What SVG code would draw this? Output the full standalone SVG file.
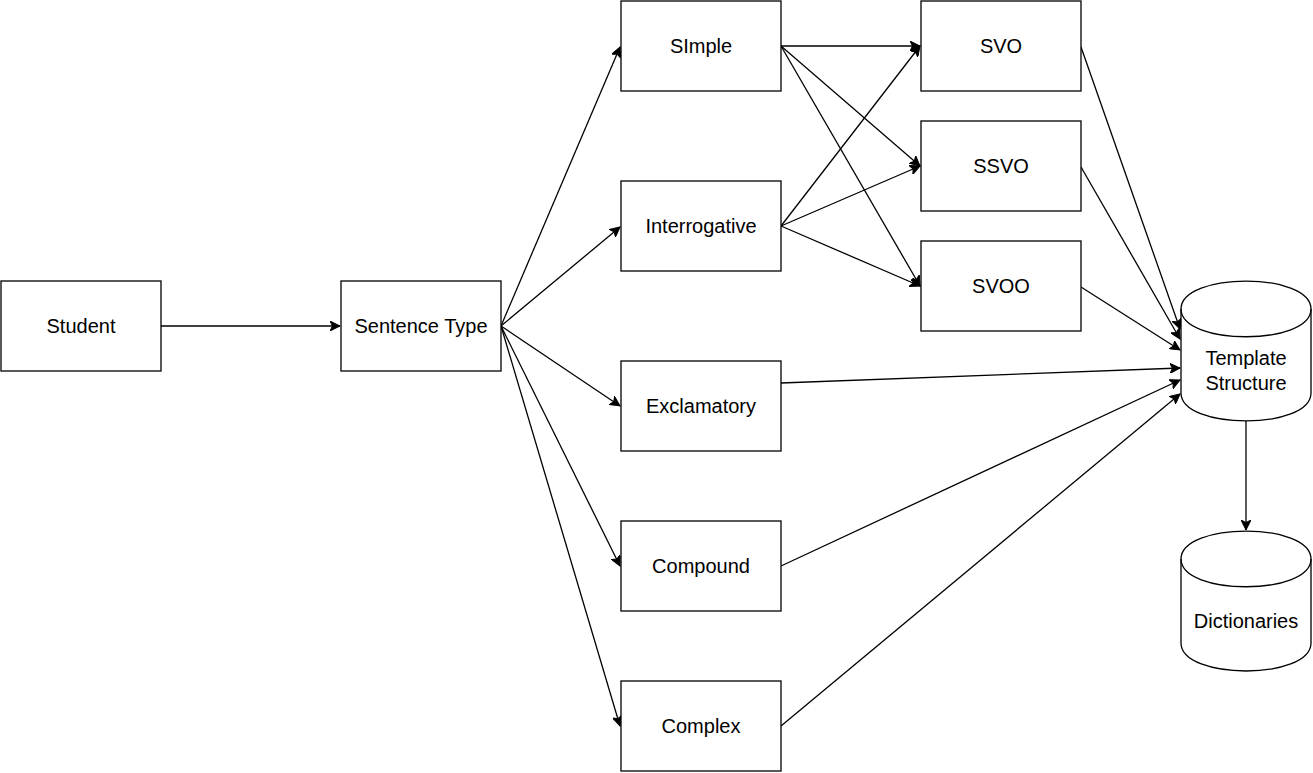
<svg xmlns="http://www.w3.org/2000/svg" width="1313" height="773" viewBox="0 0 1313 773">
<style>
.box{fill:#fff;stroke:#000;stroke-width:1.3}
.lbl{font-family:"Liberation Sans",Arial,sans-serif;font-size:20px;fill:#000;text-anchor:middle}
.edge{fill:none;stroke:#000;stroke-width:1.3;marker-end:url(#arr)}
</style>
<defs>
<marker id="arr" markerWidth="12" markerHeight="10" refX="10" refY="5" orient="auto" markerUnits="userSpaceOnUse">
<path d="M0,0 L10,5 L0,10 L2.5,5 Z" fill="#000" stroke="#000" stroke-width="1"/>
</marker>
</defs>
<rect width="1313" height="773" fill="#fff"/>
<g id="connectors">
<line class="edge" x1="161" y1="326" x2="340" y2="326"/>
<line class="edge" x1="501" y1="326" x2="620" y2="47"/>
<line class="edge" x1="501" y1="326" x2="620" y2="227"/>
<line class="edge" x1="501" y1="326" x2="620" y2="406"/>
<line class="edge" x1="501" y1="326" x2="620" y2="566"/>
<line class="edge" x1="501" y1="326" x2="620" y2="726"/>
<line class="edge" x1="781" y1="46" x2="920" y2="46"/>
<line class="edge" x1="781" y1="46" x2="920" y2="166"/>
<line class="edge" x1="781" y1="46" x2="920" y2="286"/>
<line class="edge" x1="781" y1="226" x2="920" y2="46"/>
<line class="edge" x1="781" y1="226" x2="920" y2="166"/>
<line class="edge" x1="781" y1="226" x2="920" y2="286"/>
<line class="edge" x1="1081" y1="47" x2="1180" y2="329"/>
<line class="edge" x1="1081" y1="167" x2="1180" y2="339"/>
<line class="edge" x1="1081" y1="287" x2="1180" y2="350"/>
<line class="edge" x1="781" y1="383" x2="1180" y2="368"/>
<line class="edge" x1="781" y1="566" x2="1180" y2="380"/>
<line class="edge" x1="781" y1="726" x2="1180" y2="394"/>
<line class="edge" x1="1246" y1="421" x2="1246" y2="530"/>
</g>
<g id="student"><rect class="box" x="1" y="281" width="160" height="90"/><text class="lbl" x="81" y="333">Student</text></g>
<g id="sentence-type"><rect class="box" x="341" y="281" width="160" height="90"/><text class="lbl" x="421" y="333">Sentence Type</text></g>
<g id="simple"><rect class="box" x="621" y="1" width="160" height="90"/><text class="lbl" x="701" y="53">SImple</text></g>
<g id="interrogative"><rect class="box" x="621" y="181" width="160" height="90"/><text class="lbl" x="701" y="233">Interrogative</text></g>
<g id="exclamatory"><rect class="box" x="621" y="361" width="160" height="90"/><text class="lbl" x="701" y="413">Exclamatory</text></g>
<g id="compound"><rect class="box" x="621" y="521" width="160" height="90"/><text class="lbl" x="701" y="573">Compound</text></g>
<g id="complex"><rect class="box" x="621" y="681" width="160" height="90"/><text class="lbl" x="701" y="733">Complex</text></g>
<g id="svo"><rect class="box" x="921" y="1" width="160" height="90"/><text class="lbl" x="1001" y="53">SVO</text></g>
<g id="ssvo"><rect class="box" x="921" y="121" width="160" height="90"/><text class="lbl" x="1001" y="173">SSVO</text></g>
<g id="svoo"><rect class="box" x="921" y="241" width="160" height="90"/><text class="lbl" x="1001" y="293">SVOO</text></g>
<g id="template-structure">
<path class="box" d="M1181,309 C1181,271.7 1311,271.7 1311,309 L1311,393 C1311,430.3 1181,430.3 1181,393 Z"/>
<path fill="none" stroke="#000" stroke-width="1.3" d="M1181,309 C1181,346 1311,346 1311,309"/>
<text class="lbl" x="1246" y="365">Template</text>
<text class="lbl" x="1246" y="390">Structure</text>
</g>
<g id="dictionaries">
<path class="box" d="M1181,559 C1181,521.7 1311,521.7 1311,559 L1311,643 C1311,680.3 1181,680.3 1181,643 Z"/>
<path fill="none" stroke="#000" stroke-width="1.3" d="M1181,559 C1181,596 1311,596 1311,559"/>
<text class="lbl" x="1246" y="628">Dictionaries</text>
</g>
</svg>
